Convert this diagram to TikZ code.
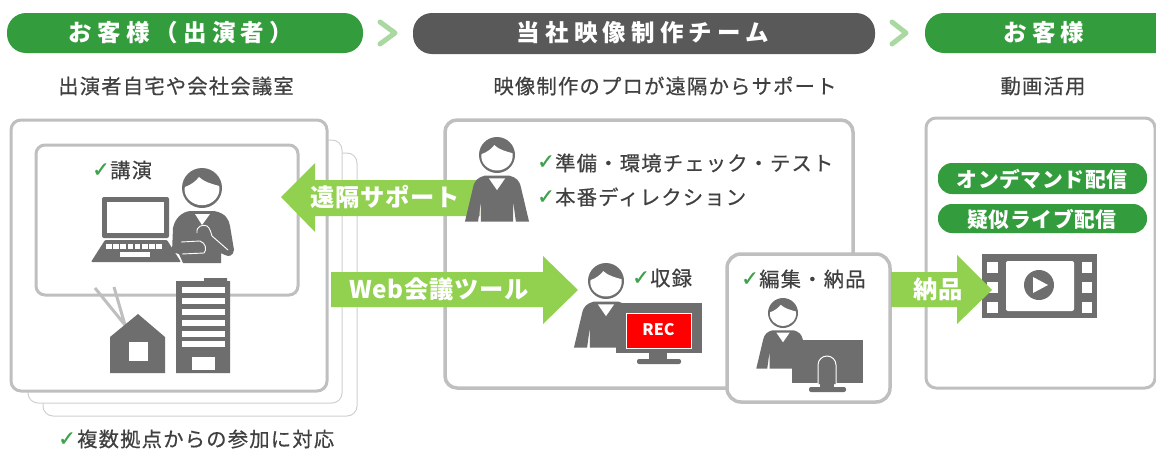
\documentclass[tikz,border=0pt]{standalone}
\usepackage{fontspec}
\setmainfont{Noto Sans CJK JP}
\newfontfamily\jpfont[LetterSpace=6,FakeBold=0.5]{Noto Sans CJK JP}
\newfontfamily\jphead[LetterSpace=22]{Noto Sans CJK JP}
\newfontfamily\jparrow[LetterSpace=3]{Noto Sans CJK JP}
\newfontfamily\chkfont[FakeBold=1]{DejaVu Sans}
\definecolor{pillgreen}{HTML}{339C3C}
\definecolor{arrowgreen}{HTML}{92D050}
\definecolor{chevgreen}{HTML}{A9D8A0}
\definecolor{iconc}{HTML}{6E6E6E}
\definecolor{boxline}{HTML}{BFBFBF}
\definecolor{thinline}{HTML}{D0D0D0}
\definecolor{txtc}{HTML}{404040}
\definecolor{darkpill}{HTML}{595959}
\definecolor{chkc}{HTML}{3FA34D}
\newcommand{\chk}{{\chkfont\color{chkc}\fontsize{21}{21}\selectfont ✓}}
\newcommand{\jbody}{\fontsize{20.3}{20}\selectfont\jpfont}
\newcommand{\jhead}{\fontsize{23.5}{23}\selectfont\bfseries\jphead}
% head only, unit = head radius
\newcommand{\headshape}{%
  \fill[iconc] (0,0) circle (1);
  \fill[white] (-0.86,-0.05) .. controls (-0.55,-0.15) and (-0.3,-0.35) .. (-0.15,-0.55)
    .. controls (0.1,-0.3) and (0.5,-0.2) .. (0.86,-0.1)
    .. controls (0.95,0.45) and (0.5,0.86) .. (0,0.86)
    .. controls (-0.5,0.86) and (-0.95,0.45) .. (-0.86,-0.05) -- cycle;
}
\newcommand{\personicon}[3]{%
  \begin{scope}[shift={(#1,#2)},x=#3pt,y=-#3pt]
    \headshape
    \fill[iconc] (-0.7,1.15) -- (0.7,1.15) .. controls (1.05,1.25) and (1.25,1.4) .. (1.33,1.8)
      -- (1.78,3.7) -- (1.05,3.7) -- (0.9,2.6) -- (0.9,3.7) -- (-0.9,3.7) -- (-0.9,2.6)
      -- (-1.05,3.7) -- (-1.78,3.7) -- (-1.33,1.8) .. controls (-1.25,1.4) and (-1.05,1.25) .. (-0.7,1.15) -- cycle;
    \fill[white] (-0.45,1.3) -- (0.45,1.3) -- (0,1.95) -- cycle;
  \end{scope}}
\tikzset{
  pill/.style={fill=pillgreen,rounded corners=14pt},
  mainbox/.style={draw=boxline,line width=3pt,fill=white,rounded corners=10pt},
  backbox/.style={draw=thinline,line width=1pt,fill=white,rounded corners=10pt},
  chev/.style={draw=chevgreen,line width=5pt,line cap=round,line join=round},
  bigarrow/.style={fill=arrowgreen},
  icon/.style={fill=iconc},
  headtext/.style={text=white,inner sep=0pt,font=\jhead},
  bodytext/.style={text=txtc,inner sep=0pt,font=\jbody},
  chktext/.style={text=txtc,inner sep=0pt,font=\jbody,anchor=west},
  arrowtext/.style={text=white,inner sep=0pt,font=\fontsize{24.3}{24}\selectfont\bfseries\jparrow},
  pilltext/.style={text=white,inner sep=0pt,font=\fontsize{20.8}{20}\selectfont\bfseries\jparrow}
}
\begin{document}
\begin{tikzpicture}[x=1pt,y=-1pt]
\useasboundingbox (0,0) rectangle (1156,450);
\fill[white] (0,0) rectangle (1156,450);
% header pills
\fill[pill,rounded corners=19pt] (7,13) rectangle (363,53);
\fill[darkpill,rounded corners=19pt] (413,13) rectangle (875,54);
\fill[pill,rounded corners=19pt] (925,13) rectangle (1175,53);
\node[headtext] (h1) at (181,33) {お客様（出演者）};
\node[headtext] (h2) at (643,33) {当社映像制作チーム};
\node[headtext] (h3) at (1044,33) {お客様};
\draw[chev] (380,22) -- (395,33) -- (380,44);
\draw[chev] (892,22) -- (906,33) -- (892,44);
% subtitles
\node[bodytext] (s1) at (176,86) {出演者自宅や会社会議室};
\node[bodytext] (s2) at (665,86) {映像制作のプロが遠隔からサポート};
\node[bodytext] (s3) at (1043,86) {動画活用};
% left stacked boxes
\draw[backbox] (43,153) rectangle (357,416);
\draw[backbox] (28,140) rectangle (342,403);
\draw[mainbox] (11,120) rectangle (327,391);
% speech bubble
\draw[draw=boxline,line width=3pt,rounded corners=9pt] (36,145) rectangle (298,295);
\draw[draw=boxline,line width=3pt,line join=round] (95,288) -- (125,325) -- (114,287);
% speaker with laptop
\node[chktext] (c0) at (92,170) {\chk};
\node[chktext] (t0) at (110,170) {講演};
\fill[icon,rounded corners=2pt] (102,197) rectangle (169,238);
\fill[white] (107,202) rectangle (164,233);
\fill[icon,rounded corners=1pt] (105,240) -- (167,240) -- (181,262) -- (91,262) -- cycle;
\fill[white] (120,252) rectangle (150,257);
\foreach \k in {0,...,7}{\fill[white] ({106+\k*7.2},243.5) rectangle ({111.5+\k*7.2},249);}
\begin{scope}[shift={(202,188)},x=20pt,y=-20pt]
  \headshape
\end{scope}
\fill[icon] (190,211) -- (214,211) .. controls (226,213) and (229,220) .. (230,226)
  -- (234,250) .. controls (233,256) and (229,257) .. (225,255) -- (221,253) -- (221,263) -- (183,263) -- (179,254) -- (172,252)
  -- (173,228) .. controls (175,218) and (182,212) .. (190,211) -- cycle;
\fill[white] (195,214) -- (210,214) -- (202,225) -- cycle;
\draw[white,line width=0.9pt] (212,236) -- (228,250);
\draw[white,line width=0.9pt] (181,242) -- (200,241) .. controls (206,243) and (207,250) .. (204,253) -- (182,254);
\draw[white,line width=0.9pt] (197,233) .. controls (196,226) and (203,224) .. (207,226) .. controls (210,228) and (211,233) .. (212,236);
% house and building
\fill[icon] (138,314) -- (165,337) -- (165,373) -- (110,373) -- (110,337) -- cycle;
\fill[white] (129,342) rectangle (148,361);
\fill[icon] (176,281) -- (204,281) -- (204,278) -- (227,278) -- (227,281) -- (230,281) -- (230,373) -- (176,373) -- cycle;
\foreach \ya in {287,298,309,320,331,341}{\fill[white] (182,\ya) rectangle (225,{\ya+6});}
\fill[white] (192,357) rectangle (215,370);
% middle box
\draw[mainbox,line width=3.5pt,rounded corners=12pt] (445,120) rectangle (853,388);
% arrows
\fill[bigarrow] (281,197) -- (315,163) -- (315,180) -- (480,180) -- (480,216) -- (315,216) -- (315,232) -- cycle;
\node[arrowtext] (a1) at (385,197) {遠隔サポート};
\fill[bigarrow] (331,272) -- (543,272) -- (543,256) -- (578,290) -- (543,324) -- (543,307) -- (331,307) -- cycle;
\node[arrowtext] (a2) at (439,289) {Web会議ツール};
% middle persons and texts
\personicon{497}{155}{18}
\node[chktext] (c1) at (537,162) {\chk};
\node[chktext] (t1) at (555,163) {準備・環境チェック・テスト};
\node[chktext] (c2) at (537,197) {\chk};
\node[chktext] (t2) at (555,197) {本番ディレクション};
\personicon{606}{281}{18}
\node[chktext] (c3) at (632,278) {\chk};
\node[chktext] (t3) at (650,278) {収録};
% REC monitor
\fill[icon] (616,303) rectangle (702,353);
\fill[red,draw=white,line width=1pt] (626,313) rectangle (691,348);
\node[text=white,inner sep=0pt,font=\fontsize{16}{16}\selectfont\bfseries] (rec) at (658.5,329.5) {REC};
\fill[icon] (649,353) rectangle (667,360);
\fill[icon,rounded corners=2pt] (637,359) rectangle (681,364);
% edit box
\draw[mainbox,line width=3.5pt,rounded corners=14pt] (727,254) rectangle (890,402);
\node[chktext] (c4) at (741,279) {\chk};
\node[chktext] (t4) at (759,279) {編集・納品};
\personicon{783}{313}{15}
\fill[icon] (792,340) rectangle (863,383);
\draw[white,line width=1pt,fill=iconc] (818,384) -- (818,365) arc[start angle=180,end angle=0,radius=9pt] -- (836,384);
\fill[icon] (820,382) rectangle (834,388);
\fill[icon,rounded corners=2pt] (809,387) rectangle (846,392);
% right box
\draw[mainbox,rounded corners=10pt] (926,118) rectangle (1155,388);
\fill[pill] (938,163) rectangle (1147,194);
\fill[pill] (938,204) rectangle (1147,233);
\node[pilltext] (p1) at (1042,179) {オンデマンド配信};
\node[pilltext] (p2) at (1042,219) {疑似ライブ配信};
% film icon
\fill[icon] (982,254) rectangle (1097,318);
\fill[white,rounded corners=2pt] (1006,261) rectangle (1074,311);
\foreach \ya in {262,282,302}{
  \fill[white] (987,\ya) rectangle (998,{\ya+11});
  \fill[white] (1082,\ya) rectangle (1092,{\ya+11});
}
\fill[icon] (1039,285) circle (15);
\fill[white] (1033,277) -- (1048,285) -- (1033,293) -- cycle;
% delivery arrow
\fill[bigarrow] (891,272) -- (957,272) -- (957,255) -- (992,290) -- (957,324) -- (957,307) -- (891,307) -- cycle;
\node[arrowtext] (a3) at (938,289) {納品};
% bottom note
\node[chktext] (c5) at (58,439) {\chk};
\node[chktext] (t5) at (77,439) {複数拠点からの参加に対応};
\end{tikzpicture}
\end{document}
